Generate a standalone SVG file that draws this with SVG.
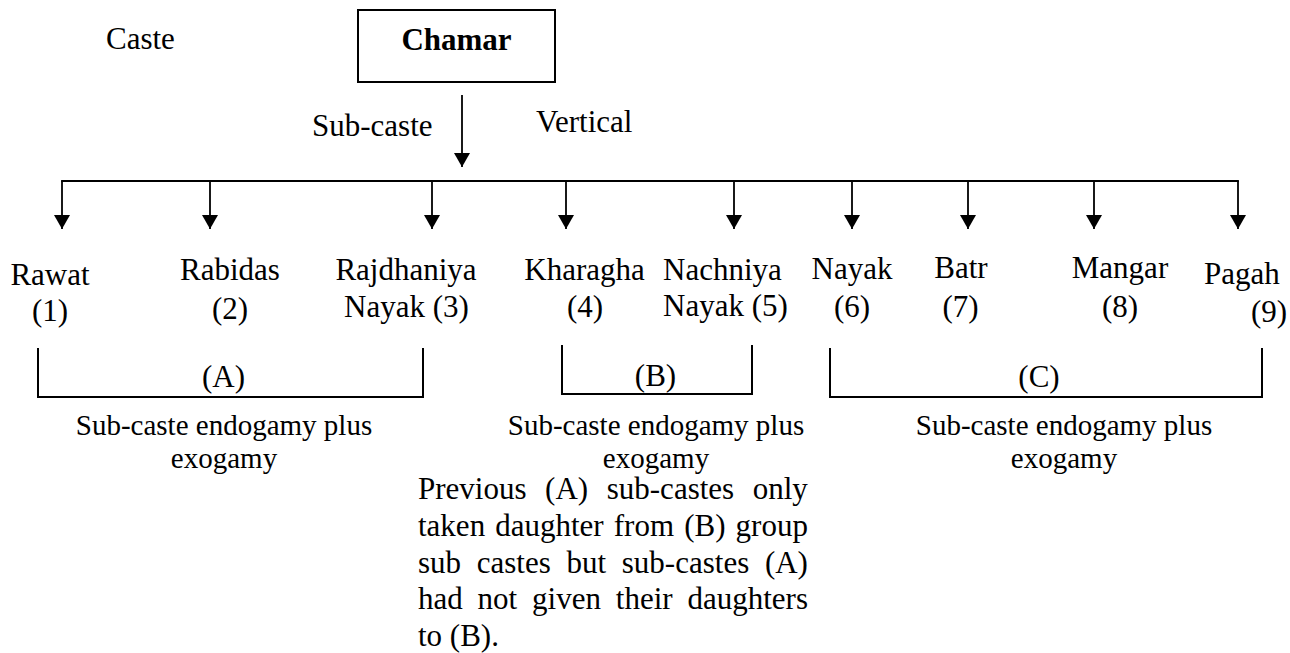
<svg xmlns="http://www.w3.org/2000/svg" width="1290" height="653" viewBox="0 0 1290 653">
  <defs>
    <style>
      text { font-family: "Liberation Serif", "Times New Roman", serif; fill: #000; }
      .lbl { font-size: 31px; }
      .bold { font-weight: bold; }
      .mid { text-anchor: middle; }
      .cap { font-size: 29px; text-anchor: middle; }
      .box { fill: #fff; stroke: #000; stroke-width: 2; }
      .conn { fill: none; stroke: #000; stroke-width: 1.8; }
      .bracket { fill: none; stroke: #000; stroke-width: 2; }
    </style>
    <marker id="head" viewBox="0 0 14 16" markerWidth="14" markerHeight="16" refX="14" refY="8" orient="auto" markerUnits="userSpaceOnUse">
      <path d="M0,0 L14,8 L0,16 Z" fill="#000"/>
    </marker>
  </defs>

  <rect width="1290" height="653" fill="#fff"/>

  <!-- side labels -->
  <g id="label-caste"><text class="lbl" x="106" y="49">Caste</text></g>
  <g id="label-subcaste"><text class="lbl" x="312" y="136">Sub-caste</text></g>
  <g id="label-vertical"><text class="lbl" x="536" y="132">Vertical</text></g>

  <!-- caste -->
  <g id="node-chamar">
    <rect class="box" x="358" y="10" width="197" height="72"/>
    <text class="lbl bold mid" x="456.5" y="50">Chamar</text>
  </g>

  <!-- connectors -->
  <g id="connectors">
    <line class="conn" x1="462" y1="95" x2="462" y2="167" marker-end="url(#head)"/>
    <line class="conn" x1="61.1" y1="181" x2="1238.9" y2="181"/>
    <line class="conn" x1="62" y1="181" x2="62" y2="229" marker-end="url(#head)"/>
    <line class="conn" x1="210" y1="181" x2="210" y2="229" marker-end="url(#head)"/>
    <line class="conn" x1="432" y1="181" x2="432" y2="229" marker-end="url(#head)"/>
    <line class="conn" x1="566" y1="181" x2="566" y2="229" marker-end="url(#head)"/>
    <line class="conn" x1="734" y1="181" x2="734" y2="229" marker-end="url(#head)"/>
    <line class="conn" x1="852" y1="181" x2="852" y2="229" marker-end="url(#head)"/>
    <line class="conn" x1="968" y1="181" x2="968" y2="229" marker-end="url(#head)"/>
    <line class="conn" x1="1094" y1="181" x2="1094" y2="229" marker-end="url(#head)"/>
    <line class="conn" x1="1238" y1="181" x2="1238" y2="229" marker-end="url(#head)"/>
  </g>

  <!-- sub-castes -->
  <g id="node-rawat">
    <text class="lbl mid" x="50" y="285">Rawat</text>
    <text class="lbl mid" x="50" y="321">(1)</text>
  </g>
  <g id="node-rabidas">
    <text class="lbl mid" x="230" y="280">Rabidas</text>
    <text class="lbl mid" x="230" y="319">(2)</text>
  </g>
  <g id="node-rajdhaniya-nayak">
    <text class="lbl mid" x="406" y="280">Rajdhaniya</text>
    <text class="lbl mid" x="406.5" y="317">Nayak (3)</text>
  </g>
  <g id="node-kharagha">
    <text class="lbl mid" x="584.5" y="280">Kharagha</text>
    <text class="lbl mid" x="585" y="317">(4)</text>
  </g>
  <g id="node-nachniya-nayak">
    <text class="lbl" x="663" y="280">Nachniya</text>
    <text class="lbl" x="663" y="316">Nayak (5)</text>
  </g>
  <g id="node-nayak">
    <text class="lbl mid" x="852" y="279">Nayak</text>
    <text class="lbl mid" x="852" y="317">(6)</text>
  </g>
  <g id="node-batr">
    <text class="lbl mid" x="961" y="278">Batr</text>
    <text class="lbl mid" x="960.5" y="317">(7)</text>
  </g>
  <g id="node-mangar">
    <text class="lbl mid" x="1120" y="278">Mangar</text>
    <text class="lbl mid" x="1120" y="317">(8)</text>
  </g>
  <g id="node-pagah">
    <text class="lbl" x="1204" y="284">Pagah</text>
    <text class="lbl" x="1251" y="322">(9)</text>
  </g>

  <!-- groupings -->
  <g id="group-a">
    <path class="bracket" d="M38,348 V397 H423 V348"/>
    <text class="lbl mid" x="223.5" y="387">(A)</text>
    <text class="cap" x="224" y="435">Sub-caste endogamy plus</text>
    <text class="cap" x="224" y="468">exogamy</text>
  </g>
  <g id="group-b">
    <path class="bracket" d="M562,345 V394 H752 V345"/>
    <text class="lbl mid" x="655.5" y="386">(B)</text>
    <text class="cap" x="656" y="435">Sub-caste endogamy plus</text>
    <text class="cap" x="656" y="468">exogamy</text>
  </g>
  <g id="group-c">
    <path class="bracket" d="M830,348 V397 H1262 V348"/>
    <text class="lbl mid" x="1039" y="387">(C)</text>
    <text class="cap" x="1064" y="435">Sub-caste endogamy plus</text>
    <text class="cap" x="1064" y="468">exogamy</text>
  </g>

  <!-- justified note -->
  <g id="note">
    <text class="lbl" x="418" y="499" word-spacing="10.85">Previous (A) sub-castes only</text>
    <text class="lbl" x="418" y="536" word-spacing="2.35">taken daughter from (B) group</text>
    <text class="lbl" x="418" y="572.5" word-spacing="7.95">sub castes but sub-castes (A)</text>
    <text class="lbl" x="418" y="609" word-spacing="7.1">had not given their daughters</text>
    <text class="lbl" x="418" y="646">to (B).</text>
  </g>
</svg>
